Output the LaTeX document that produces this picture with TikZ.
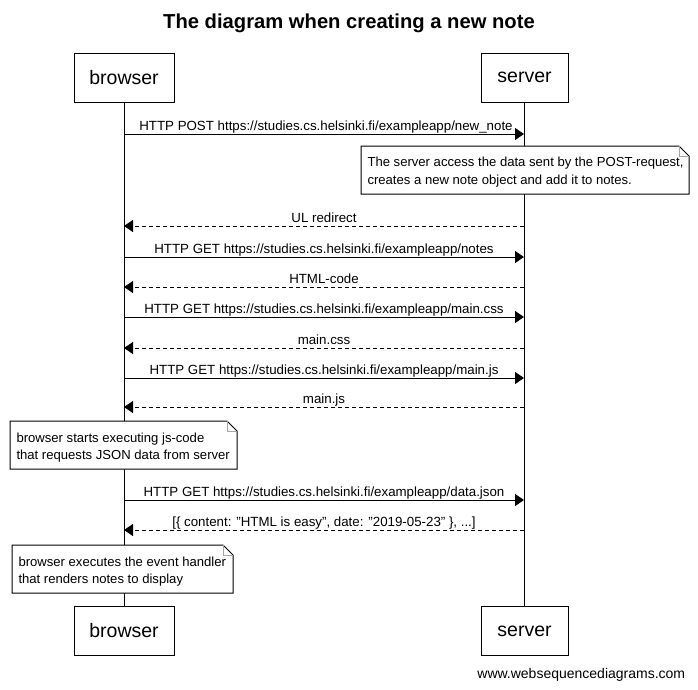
\documentclass[tikz,border=0pt]{standalone}
\usepackage{fontspec}
\setmainfont{Liberation Sans}[Ligatures=ResetAll]
\usetikzlibrary{arrows.meta}
\begin{document}
\begin{tikzpicture}[x=1pt,y=-1pt,line width=1pt,
  actor/.style={draw,minimum width=100pt,minimum height=49pt,font=\fontsize{19.5}{22}\selectfont,inner sep=0pt},
  msglabel/.style={font=\fontsize{13.3}{15}\selectfont,fill=white,inner sep=0.5pt,anchor=base},
  req/.style={-{Triangle[length=9pt,width=12pt]}},
  resp/.style={-{Triangle[length=9pt,width=12pt]},dash pattern=on 4pt off 3pt},
  notetext/.style={font=\fontsize{13.1}{17.5}\selectfont,align=left,anchor=north west,inner sep=0pt}]
\useasboundingbox (0,0) rectangle (698,689);
\fill[white] (0,0) rectangle (698,689);
\node[font=\bfseries\fontsize{20.2}{23}\selectfont] (title) at (349,23) {The diagram when creating a new note};
% actors
\node[actor,minimum width=100pt] (bt) at (124,77.5) {browser};
\node[actor,minimum width=87pt] (st) at (524.5,77.5) {server};
\node[actor,minimum width=100pt] (bb) at (124,631) {browser};
\node[actor,minimum width=87pt] (sb) at (524.5,631) {server};
\draw (bt.south) -- (bb.north);
\draw (st.south) -- (sb.north);
% message helper coordinates
\foreach \n/\y in {m1/134,m3/226,m4/257,m5/287,m6/317,m7/348,m8/378,m9/407,m11/500,m12/530}{
  \coordinate (b\n) at (124,\y);
  \coordinate (s\n) at (524,\y);
}
\draw[req] (bm1) -- (sm1) node[msglabel,pos=0.505,yshift=4pt] {HTTP POST https://studies.cs.helsinki.fi/exampleapp/new\_note};
\draw[resp] (sm3) -- (bm3) node[msglabel,midway,yshift=4pt] {UL redirect};
\draw[req] (bm4) -- (sm4) node[msglabel,midway,yshift=4pt] {HTTP GET https://studies.cs.helsinki.fi/exampleapp/notes};
\draw[resp] (sm5) -- (bm5) node[msglabel,midway,yshift=4pt] {HTML-code};
\draw[req] (bm6) -- (sm6) node[msglabel,midway,yshift=4pt] {HTTP GET https://studies.cs.helsinki.fi/exampleapp/main.css};
\draw[resp] (sm7) -- (bm7) node[msglabel,midway,yshift=4pt] {main.css};
\draw[req] (bm8) -- (sm8) node[msglabel,midway,yshift=4pt] {HTTP GET https://studies.cs.helsinki.fi/exampleapp/main.js};
\draw[resp] (sm9) -- (bm9) node[msglabel,midway,yshift=4pt] {main.js};
\draw[req] (bm11) -- (sm11) node[msglabel,midway,yshift=4pt] {HTTP GET https://studies.cs.helsinki.fi/exampleapp/data.json};
\draw[resp] (sm12) -- (bm12) node[msglabel,midway,yshift=4pt] {[\{ content: "HTML is easy", date: "2019-05-23" \}, ...]};
% notes
\foreach \x/\y/\X/\Y in {361/146/689/194, 10/421/237/469, 12/545/233/593}{
  \filldraw[fill=white] (\x,\y) -- (\X-10,\y) -- (\X,\y+10) -- (\X,\Y) -- (\x,\Y) -- cycle;
  \draw[gray!70,line width=0.8pt] (\X-10,\y) -- (\X-10,\y+10) -- (\X,\y+10);
}
\node[notetext] (n1) at (367,157) {The server access the data sent by the POST-request,\\creates a new note object and add it to notes.};
\node[notetext] (n2) at (16,432) {browser starts executing js-code\\that requests JSON data from server};
\node[notetext] (n3) at (18,556) {browser executes the event handler\\that renders notes to display};
\node[font=\fontsize{14}{16}\selectfont,anchor=east] (wsd) at (689,675) {www.websequencediagrams.com};
\end{tikzpicture}
\end{document}
